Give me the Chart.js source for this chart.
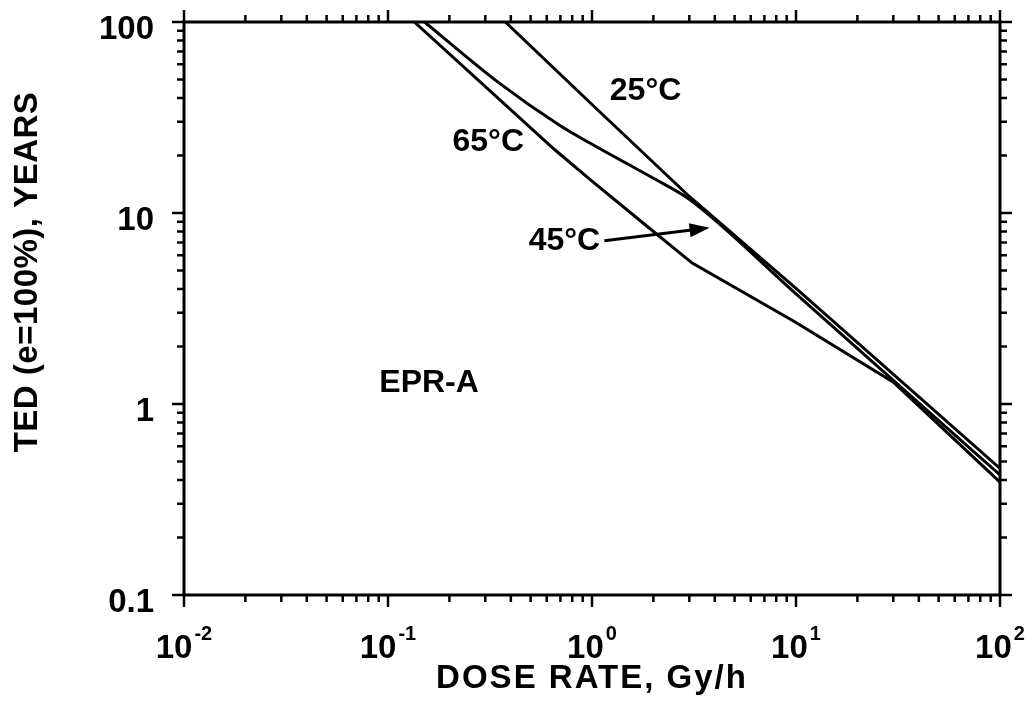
<!DOCTYPE html>
<html><head><meta charset="utf-8">
<script src="https://cdn.jsdelivr.net/npm/chart.js@4"></script>
<style>html,body{margin:0;padding:0;background:#fff}#wrap{position:relative;width:1032px;height:719px}</style>
</head><body><div id="wrap"><canvas id="c" width="1032" height="719"></canvas></div>
<script>
// ---- data ----
const dose25 = [0.376, 1, 3, 10, 100];
const ted25  = [100, 37, 12.2, 4.03, 0.46];
const dose45 = [0.151, 0.35, 0.69, 1, 2, 3, 10, 100];
const ted45  = [100, 48, 28.9, 22.9, 15.2, 11.8, 3.77, 0.425];
const dose65 = [0.1346, 0.655, 1, 2, 3.1, 10, 30, 100];
const ted65  = [100, 21.5, 14.7, 8.0, 5.47, 2.67, 1.30, 0.39];
const xTickValues = [0.01, 0.1, 1, 10, 100];
const xTickExponents = ['-2', '-1', '0', '1', '2'];
const yTickValues = [0.1, 1, 10, 100];
const yTickLabels = ['0.1', '1', '10', '100'];
const xTitle = 'DOSE RATE, Gy/h';
const yTitle = 'TED (e=100%), YEARS';
const curveNames = ['25°C', '45°C', '65°C'];

const annotations = [
  {text: '25°C', x: 1.83, y: 43.3},
  {text: '65°C', x: 0.31, y: 23.4},
  {text: '45°C', x: 0.733, y: 7.16, arrow: {x0: 1.15, y0: 7.16, x1: 3.77, y1: 8.37}},
  {text: 'EPR-A', x: 0.159, y: 1.29}
];

const toPts = (xs, ys) => xs.map((v, i) => ({x: v, y: ys[i]}));
const FONT = '"Liberation Sans", Arial, sans-serif';

const decor = {
  id: 'decor',
  afterDatasetsDraw(chart) {
    const ctx = chart.ctx, a = chart.chartArea;
    const xs = chart.scales.x, ys = chart.scales.y;
    ctx.save();
    ctx.strokeStyle = '#000'; ctx.fillStyle = '#000';
    // frame
    ctx.lineWidth = 3;
    ctx.strokeRect(a.left, a.top, a.right - a.left, a.bottom - a.top);
    // ticks
    ctx.lineWidth = 2.5;
    const MAJ = 12, MIN = 7;
    xTickValues.forEach((dec, i) => {
      for (let m = 1; m <= 9; m++) {
        if (m > 1 && i === xTickValues.length - 1) break;
        const p = xs.getPixelForValue(dec * m);
        const len = m === 1 ? MAJ : MIN;
        ctx.beginPath();
        ctx.moveTo(p, a.bottom); ctx.lineTo(p, a.bottom + len);
        ctx.moveTo(p, a.top); ctx.lineTo(p, a.top - len);
        ctx.stroke();
      }
    });
    yTickValues.forEach((dec, i) => {
      for (let m = 1; m <= 9; m++) {
        if (m > 1 && i === yTickValues.length - 1) break;
        const p = ys.getPixelForValue(dec * m);
        const len = m === 1 ? MAJ : MIN;
        ctx.beginPath();
        ctx.moveTo(a.left, p); ctx.lineTo(a.left - len, p);
        ctx.moveTo(a.right, p); ctx.lineTo(a.right + len, p);
        ctx.stroke();
      }
    });
    // y tick labels
    ctx.font = 'bold 33px ' + FONT;
    ctx.textAlign = 'right'; ctx.textBaseline = 'middle';
    yTickValues.forEach((v, i) => {
      ctx.fillText(yTickLabels[i], a.left - 30, ys.getPixelForValue(v) + 8);
    });
    // x tick labels with superscripts
    ctx.textAlign = 'left'; ctx.textBaseline = 'alphabetic';
    xTickValues.forEach((v, i) => {
      const p = xs.getPixelForValue(v);
      ctx.font = 'bold 33px ' + FONT;
      const w1 = ctx.measureText('10').width;
      ctx.font = 'bold 20px ' + FONT;
      const w2 = ctx.measureText(xTickExponents[i]).width;
      const x0 = p - (w1 + w2 + 2) / 2;
      ctx.font = 'bold 33px ' + FONT;
      ctx.fillText('10', x0, a.bottom + 63);
      ctx.font = 'bold 20px ' + FONT;
      ctx.fillText(xTickExponents[i], x0 + w1 + 2, a.bottom + 45);
    });
    // axis titles
    ctx.textAlign = 'center'; ctx.textBaseline = 'middle';
    ctx.font = 'bold 33px ' + FONT;
    if ('letterSpacing' in ctx) ctx.letterSpacing = '2px';
    ctx.fillText(xTitle, (a.left + a.right) / 2, 679);
    if ('letterSpacing' in ctx) ctx.letterSpacing = '0.5px';
    ctx.save();
    ctx.translate(28, 272); ctx.rotate(-Math.PI / 2);
    ctx.fillText(yTitle, 0, 0);
    ctx.restore();
    if ('letterSpacing' in ctx) ctx.letterSpacing = '0px';
    // annotations
    ctx.font = 'bold 32px ' + FONT;
    annotations.forEach(an => {
      ctx.fillText(an.text, xs.getPixelForValue(an.x), ys.getPixelForValue(an.y));
      if (an.arrow) {
        const x0 = xs.getPixelForValue(an.arrow.x0), y0 = ys.getPixelForValue(an.arrow.y0);
        const x1 = xs.getPixelForValue(an.arrow.x1), y1 = ys.getPixelForValue(an.arrow.y1);
        const ang = Math.atan2(y1 - y0, x1 - x0);
        ctx.lineWidth = 3;
        ctx.beginPath(); ctx.moveTo(x0, y0);
        ctx.lineTo(x1 - 14 * Math.cos(ang), y1 - 14 * Math.sin(ang)); ctx.stroke();
        ctx.beginPath();
        ctx.moveTo(x1, y1);
        ctx.lineTo(x1 - 20 * Math.cos(ang) + 7 * Math.sin(ang), y1 - 20 * Math.sin(ang) - 7 * Math.cos(ang));
        ctx.lineTo(x1 - 20 * Math.cos(ang) - 7 * Math.sin(ang), y1 - 20 * Math.sin(ang) + 7 * Math.cos(ang));
        ctx.closePath(); ctx.fill();
      }
    });
    ctx.restore();
  }
};

const lineDs = (label, xs, ys, smooth) => ({
  label, data: toPts(xs, ys), borderColor: '#000', borderWidth: 3,
  pointRadius: 0, fill: false,
  tension: smooth ? 0.4 : 0, cubicInterpolationMode: smooth ? 'monotone' : 'default'
});

new Chart(document.getElementById('c'), {
  type: 'line',
  data: {datasets: [
    lineDs(curveNames[0], dose25, ted25, false),
    lineDs(curveNames[1], dose45, ted45, true),
    lineDs(curveNames[2], dose65, ted65, false)
  ]},
  options: {
    responsive: false, animation: false, devicePixelRatio: 1,
    layout: {padding: {left: 184, top: 22, right: 32, bottom: 124}},
    plugins: {legend: {display: false}, tooltip: {enabled: false}},
    scales: {
      x: {type: 'logarithmic', min: 0.01, max: 100, ticks: {display: false},
          grid: {display: false, drawTicks: false}, border: {display: false}},
      y: {type: 'logarithmic', min: 0.1, max: 100, ticks: {display: false},
          grid: {display: false, drawTicks: false}, border: {display: false}}
    }
  },
  plugins: [decor]
});
</script></body></html>
